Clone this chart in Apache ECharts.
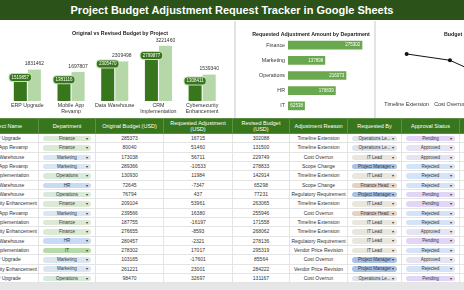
<!DOCTYPE html>
<html>
<head>
<meta charset="utf-8">
<script src="https://cdn.jsdelivr.net/npm/echarts@6/dist/echarts.min.js"></script>
<style>
  html, body { margin: 0; padding: 0; }
  body { width: 464px; height: 290px; overflow: hidden; position: relative; background: #fff; font-family: "Liberation Sans", Arial, sans-serif; }
  #head { position: absolute; left: 0; top: 0; width: 464px; height: 20px; background: #2b5219; color: #fff; font-weight: bold; font-size: 11px; line-height: 20px; text-align: center; }
  #charts { position: absolute; left: 0; top: 22px; width: 374px; height: 96px; }
  #reason { position: absolute; left: 376px; top: 22px; width: 240px; height: 96px; }
  .sep { position: absolute; top: 21px; width: 2px; height: 97px; background: #e3e3e3; }
  #tbl { position: absolute; left: -28px; top: 118px; width: 517px; border-collapse: collapse; table-layout: fixed; }
  #tbl th { background: #38761d; color: #fff; font-weight: normal; font-size: 5.5px; height: 14px; padding: 0 2px; border: 1px solid #5f8f45; line-height: 6px; }
  #tbl td { height: 8.33px; padding: 0; font-size: 5px; color: #333; text-align: center; border: 1px solid #e4e4e4; white-space: nowrap; overflow: hidden; }
  .chip { display: inline-block; position: relative; height: 5.5px; line-height: 5.5px; border-radius: 3px; font-size: 4.5px; vertical-align: middle; }
  .chip b { position: absolute; right: 3px; top: 0; font-weight: normal; font-size: 4px; }
  #foot { position: absolute; left: 0; top: 283px; width: 464px; height: 7px; background: #e6e6e6; }
</style>
</head>
<body>
<div id="head">Project Budget Adjustment Request Tracker in Google Sheets</div>
<div class="sep" style="left:234px"></div>
<div class="sep" style="left:374px"></div>
<div id="charts"></div>
<div id="reason"></div>
<table id="tbl"></table>
<div id="foot"></div>
<script>
// chart 1 - original vs revised by project
var projects = ['ERP Upgrade', 'Mobile App\nRevamp', 'Data Warehouse', 'CRM\nImplementation', 'Cybersecurity\nEnhancement'];
var originalBudget = [1519857, 1381116, 2305470, 2799877, 1308411];
var revisedBudget = [1831462, 1697807, 2309498, 3221460, 1539340];

// chart 2 - requested adjustment by department
var departments = ['Finance', 'Marketing', 'Operations', 'HR', 'IT'];
var deptAdjustment = [275302, 137898, 216073, 176839, 62538];

// chart 3 - adjustment by reason (cut off at the right)
var reasons = ['Timeline Extension', 'Cost Overrun', 'Scope Change', 'Regulatory Requirement', 'Vendor Price Revision'];
var reasonAmount = [71700, 61200, 28300, 40000, 15000];

// table rows
var headers = ['Project Name', 'Department', 'Original Budget (USD)', 'Requested Adjustment (USD)', 'Revised Budget (USD)', 'Adjustment Reason', 'Requested By', 'Approval Status', ''];
var colWidths = [66, 57, 68, 69, 57, 58, 54, 58, 30];
var rowProject = ['ERP Upgrade', 'Mobile App Revamp', 'Data Warehouse', 'Mobile App Revamp', 'CRM Implementation', 'Data Warehouse', 'Data Warehouse', 'Cybersecurity Enhancement', 'Mobile App Revamp', 'CRM Implementation', 'Cybersecurity Enhancement', 'Data Warehouse', 'CRM Implementation', 'ERP Upgrade', 'Cybersecurity Enhancement', 'ERP Upgrade'];
var rowDept = ['Finance', 'Finance', 'Marketing', 'Marketing', 'Operations', 'HR', 'Operations', 'Finance', 'Marketing', 'Finance', 'Finance', 'HR', 'IT', 'Marketing', 'Marketing', 'Operations'];
var rowOriginal = [285373, 80040, 173038, 289366, 130930, 72645, 76794, 209104, 239566, 187755, 276655, 280457, 278302, 103165, 261221, 98470];
var rowRequested = [16715, 51460, 56711, -10533, 11984, -7347, 437, 53961, 16380, -16197, -8593, -2321, 17017, -17601, 23001, 32697];
var rowRevised = [302088, 131500, 229749, 278833, 142914, 65298, 77231, 263065, 255946, 171558, 268062, 278136, 295319, 85564, 284222, 131167];
var rowReason = ['Timeline Extension', 'Timeline Extension', 'Cost Overrun', 'Scope Change', 'Timeline Extension', 'Scope Change', 'Regulatory Requirement', 'Timeline Extension', 'Cost Overrun', 'Timeline Extension', 'Timeline Extension', 'Regulatory Requirement', 'Vendor Price Revision', 'Cost Overrun', 'Vendor Price Revision', 'Cost Overrun'];
var rowBy = ['Operations Le...', 'Operations Le...', 'IT Lead', 'Project Manager', 'IT Lead', 'Finance Head', 'Project Manager', 'IT Lead', 'Finance Head', 'IT Lead', 'IT Lead', 'IT Lead', 'IT Lead', 'Project Manager', 'Project Manager', 'Operations Le...'];
var rowStatus = ['Pending', 'Approved', 'Approved', 'Rejected', 'Rejected', 'Rejected', 'Pending', 'Pending', 'Rejected', 'Rejected', 'Approved', 'Pending', 'Rejected', 'Approved', 'Rejected', 'Pending'];

var chipColors = {
  'Finance': '#dce9d4', 'Marketing': '#dbe6f3', 'Operations': '#d6ebdc', 'HR': '#c8dbf6', 'IT': '#b5dba6',
  'Operations Le...': '#dfe4ec', 'IT Lead': '#e9e6e0', 'Project Manager': '#a8c2e6', 'Finance Head': '#e6d2c3',
  'Pending': '#e2d6f6', 'Approved': '#e6e4f4', 'Rejected': '#d4e3f8'
};

function chip(txt, w) {
  return '<span class="chip" style="width:' + w + 'px;background:' + chipColors[txt] + '">' + txt + '<b>&#9662;</b></span>';
}

var tbl = document.getElementById('tbl');
var html = '<colgroup>';
for (var i = 0; i < colWidths.length; i++) {
  html += '<col style="width:' + colWidths[i] + 'px">';
}
html += '</colgroup><tr>';
for (var i = 0; i < headers.length; i++) {
  html += '<th>' + headers[i] + '</th>';
}
html += '</tr>';
for (var r = 0; r < rowProject.length; r++) {
  html += '<tr>' +
    '<td>' + rowProject[r] + '</td>' +
    '<td>' + chip(rowDept[r], 48) + '</td>' +
    '<td>' + rowOriginal[r] + '</td>' +
    '<td>' + rowRequested[r] + '</td>' +
    '<td>' + rowRevised[r] + '</td>' +
    '<td>' + rowReason[r] + '</td>' +
    '<td>' + chip(rowBy[r], 45) + '</td>' +
    '<td>' + chip(rowStatus[r], 49) + '</td>' +
    '<td></td></tr>';
}
tbl.innerHTML = html;

var titleStyle = { fontSize: 5.3, fontWeight: 'bold', color: '#222', fontFamily: 'Liberation Sans' };
var lblStyle = { fontSize: 5.3, color: '#333', fontFamily: 'Liberation Sans' };

var chart = echarts.init(document.getElementById('charts'));
chart.setOption({
  animation: false,
  title: [
    { text: 'Original vs Revised Budget by Project', left: 115, top: 4, textAlign: 'center', textStyle: titleStyle },
    { text: 'Requested Adjustment Amount by Department', left: 306, top: 5, textAlign: 'center', textStyle: titleStyle }
  ],
  grid: [
    { left: 5.5, top: 19, width: 218.5, height: 60 },
    { left: 288, top: 15.5, width: 81, height: 76 }
  ],
  xAxis: [
    { gridIndex: 0, type: 'category', data: projects, axisLine: { show: false }, axisTick: { show: false },
      axisLabel: Object.assign({ margin: 2, lineHeight: 6, interval: 0 }, lblStyle) },
    { gridIndex: 1, type: 'value', min: 0, max: 300000, show: false }
  ],
  yAxis: [
    { gridIndex: 0, type: 'value', min: 0, max: 3500000, show: false },
    { gridIndex: 1, type: 'category', data: departments, inverse: true, axisLine: { show: false }, axisTick: { show: false },
      axisLabel: Object.assign({ margin: 3 }, lblStyle) }
  ],
  series: [
    {
      name: 'Original Budget', type: 'bar', xAxisIndex: 0, yAxisIndex: 0, data: originalBudget,
      barGap: '8%', barCategoryGap: '38%',
      itemStyle: { color: '#38761d' },
      label: { show: true, position: 'insideTop', distance: -1, fontSize: 4.5, color: '#fff',
        backgroundColor: '#38761d', borderColor: '#c5e0b8', borderWidth: 1, borderRadius: 3, padding: [1, 2] }
    },
    {
      name: 'Revised Budget', type: 'bar', xAxisIndex: 0, yAxisIndex: 0, data: revisedBudget,
      itemStyle: { color: '#b6d7a8' },
      label: { show: true, position: 'top', distance: 3, fontSize: 5, color: '#333' }
    },
    {
      name: 'Requested Adjustment', type: 'bar', xAxisIndex: 1, yAxisIndex: 1, data: deptAdjustment,
      barCategoryGap: '43%',
      itemStyle: { color: '#6aa84f' },
      label: { show: true, position: 'insideRight', distance: 2, fontSize: 4.5, color: '#fff' }
    }
  ]
});

// third chart sits in a wider box, clipped by the page edge
var chart3 = echarts.init(document.getElementById('reason'));
chart3.setOption({
  animation: false,
  title: { text: 'Budget Adjustment by Reason', left: 63, top: 5, textStyle: titleStyle },
  grid: { left: 9, top: 15, width: 216.5, height: 60 },
  xAxis: { type: 'category', data: reasons, axisLine: { show: false }, axisTick: { show: false },
    axisLabel: Object.assign({ margin: 5, interval: 0 }, lblStyle) },
  yAxis: { type: 'value', min: 0, max: 100000, show: false },
  series: [{
    name: 'Adjustment by Reason', type: 'line', data: reasonAmount,
    lineStyle: { color: '#111', width: 1 }, itemStyle: { color: '#111' },
    symbol: 'circle', symbolSize: 4
  }]
});
</script>
</body>
</html>
